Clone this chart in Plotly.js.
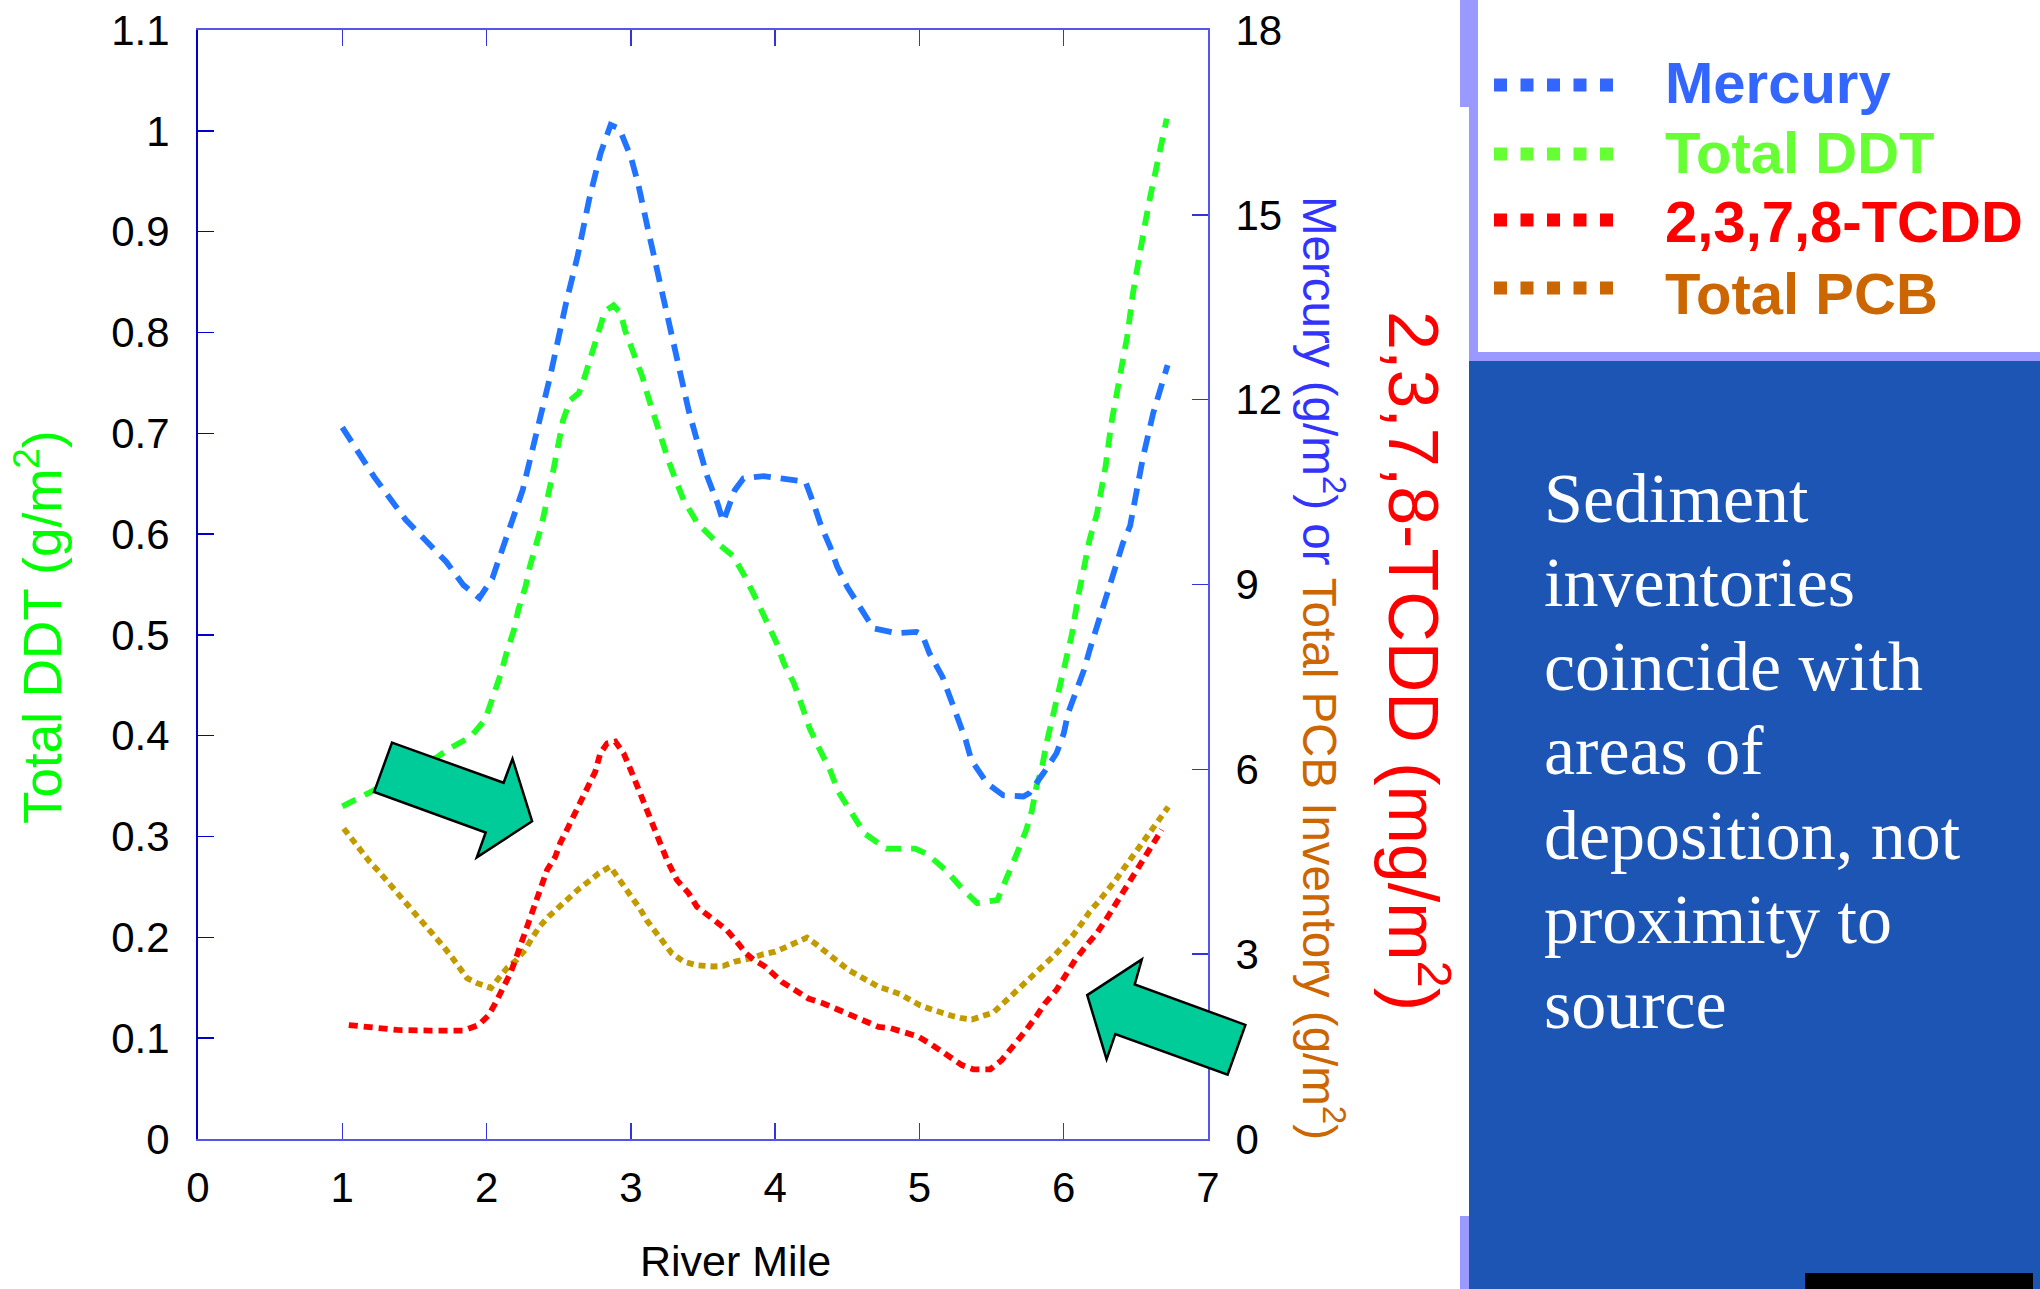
<!DOCTYPE html>
<html>
<head>
<meta charset="utf-8">
<script src="https://cdn.plot.ly/plotly-3.0.1.min.js"></script>
<style>html,body{margin:0;padding:0;background:#fff;}#chart{width:2040px;height:1289px;}</style>
</head>
<body>
<div id="chart"></div>
<script>
// ---------------- DATA ----------------
const seriesNames = ["Mercury", "Total DDT", "2,3,7,8-TCDD", "Total PCB"];

// Mercury (g/m²), right axis
const mercuryMile = [1.00,1.22,1.44,1.56,1.72,1.84,1.95,2.04,2.14,2.25,2.35,2.44,2.55,2.63,2.71,2.79,2.86,2.92,3.00,3.05,3.12,3.19,3.26,3.33,3.40,3.47,3.53,3.60,3.64,3.72,3.78,3.92,4.08,4.21,4.27,4.32,4.38,4.43,4.50,4.59,4.68,4.84,4.98,5.02,5.07,5.16,5.21,5.27,5.32,5.36,5.47,5.58,5.72,5.76,5.86,5.95,6.00,6.03,6.08,6.14,6.18,6.23,6.27,6.32,6.37,6.41,6.46,6.50,6.55,6.62,6.68,6.72];
const mercuryVal  = [11.55,10.75,10.05,9.75,9.37,8.99,8.78,9.10,9.78,10.53,11.5,12.37,13.56,14.32,15.24,16.0,16.46,16.4,15.94,15.51,14.75,14.0,13.24,12.54,11.83,11.24,10.75,10.32,10.02,10.53,10.72,10.76,10.72,10.67,10.29,9.94,9.62,9.29,8.96,8.61,8.29,8.21,8.23,8.18,7.88,7.50,7.15,6.80,6.48,6.15,5.77,5.58,5.56,5.61,5.94,6.26,6.58,6.91,7.23,7.61,7.94,8.32,8.64,8.99,9.34,9.67,9.95,10.5,11.07,11.78,12.21,12.56];

// Total DDT (g/m²), left axis
const ddtMile = [1.00,1.18,1.50,1.66,1.75,1.89,1.99,2.05,2.10,2.14,2.19,2.22,2.27,2.30,2.34,2.38,2.45,2.50,2.53,2.58,2.64,2.68,2.73,2.78,2.82,2.88,2.93,2.96,3.01,3.08,3.12,3.17,3.22,3.26,3.31,3.365,3.46,3.57,3.60,3.71,3.79,3.87,3.95,4.01,4.06,4.13,4.185,4.24,4.31,4.38,4.44,4.52,4.62,4.77,4.91,4.97,5.05,5.18,5.305,5.40,5.54,5.616,5.675,5.74,5.78,5.81,5.85,5.88,5.92,5.95,5.99,6.02,6.056,6.10,6.136,6.18,6.23,6.29,6.33,6.39,6.44,6.48,6.52,6.56,6.60,6.64,6.67,6.714];
const ddtVal  = [0.330,0.343,0.368,0.379,0.388,0.399,0.416,0.439,0.462,0.483,0.505,0.525,0.548,0.568,0.587,0.608,0.654,0.687,0.713,0.733,0.740,0.756,0.779,0.802,0.821,0.827,0.819,0.802,0.783,0.756,0.736,0.713,0.693,0.673,0.654,0.634,0.611,0.594,0.591,0.578,0.558,0.535,0.510,0.492,0.472,0.452,0.430,0.407,0.386,0.366,0.344,0.325,0.303,0.288,0.287,0.288,0.283,0.267,0.247,0.234,0.237,0.262,0.283,0.3065,0.326,0.349,0.369,0.392,0.416,0.435,0.4585,0.478,0.500,0.538,0.561,0.595,0.620,0.667,0.710,0.756,0.796,0.839,0.875,0.905,0.935,0.962,0.984,1.012];

// 2,3,7,8-TCDD (mg/m²)
const tcddMile = [1.045,1.15,1.26,1.38,1.61,1.84,1.945,2.015,2.06,2.12,2.165,2.20,2.246,2.28,2.315,2.35,2.384,2.42,2.476,2.51,2.557,2.615,2.66,2.707,2.753,2.788,2.835,2.892,2.95,3.008,3.065,3.12,3.19,3.25,3.32,3.40,3.458,3.54,3.60,3.666,3.735,3.80,3.85,3.93,4.047,4.14,4.23,4.335,4.44,4.52,4.62,4.716,4.80,4.90,4.993,5.086,5.20,5.294,5.374,5.49,5.57,5.65,5.74,5.81,5.87,5.95,6.02,6.08,6.16,6.23,6.29,6.37,6.425,6.48,6.555,6.61,6.68];
const tcddVal  = [1.85,1.82,1.80,1.77,1.76,1.76,1.85,2.01,2.20,2.47,2.69,2.91,3.23,3.45,3.66,3.88,4.12,4.37,4.58,4.80,5.02,5.31,5.53,5.75,5.96,6.26,6.42,6.45,6.26,5.94,5.61,5.23,4.85,4.53,4.20,3.99,3.77,3.61,3.50,3.39,3.20,3.01,2.91,2.80,2.55,2.42,2.28,2.20,2.09,2.01,1.90,1.82,1.80,1.74,1.66,1.53,1.34,1.20,1.13,1.13,1.28,1.50,1.77,1.99,2.20,2.42,2.69,2.91,3.15,3.34,3.55,3.85,4.07,4.26,4.56,4.74,5.02];

// Total PCB inventory (g/m²), right axis
const pcbMile = [1.01,1.068,1.137,1.19,1.25,1.315,1.387,1.449,1.507,1.576,1.645,1.703,1.76,1.818,1.865,1.934,2.003,2.03,2.084,2.14,2.21,2.27,2.315,2.368,2.43,2.50,2.57,2.64,2.707,2.776,2.857,2.915,2.96,3.008,3.065,3.11,3.176,3.227,3.285,3.365,3.458,3.573,3.64,3.723,3.827,3.92,4.00,4.07,4.14,4.22,4.29,4.36,4.44,4.51,4.58,4.647,4.716,4.785,4.866,4.935,5.005,5.074,5.155,5.224,5.294,5.363,5.43,5.51,5.58,5.65,5.72,5.79,5.87,5.94,6.01,6.066,6.125,6.18,6.25,6.30,6.356,6.41,6.46,6.51,6.56,6.62,6.68,6.725];
const pcbVal  = [5.04,4.86,4.68,4.50,4.35,4.18,4.00,3.81,3.65,3.47,3.30,3.12,2.95,2.77,2.61,2.53,2.46,2.45,2.61,2.77,2.91,3.08,3.26,3.45,3.61,3.77,3.93,4.06,4.18,4.31,4.42,4.23,4.07,3.91,3.73,3.55,3.36,3.19,3.01,2.88,2.82,2.80,2.81,2.88,2.93,3.00,3.04,3.11,3.18,3.27,3.15,3.01,2.85,2.74,2.65,2.55,2.47,2.42,2.35,2.26,2.17,2.11,2.04,2.00,1.96,1.94,1.99,2.05,2.20,2.36,2.50,2.66,2.84,2.99,3.15,3.31,3.50,3.69,3.88,4.01,4.19,4.37,4.53,4.69,4.88,5.04,5.23,5.39];

const xTicks = [0,1,2,3,4,5,6,7];
const leftTicks = [0,0.1,0.2,0.3,0.4,0.5,0.6,0.7,0.8,0.9,1,1.1];
const rightTicks = [0,3,6,9,12,15,18];
const panelLines = ["Sediment","inventories","coincide with","areas of","deposition, not","proximity to","source"];

// ---------------- STYLE ----------------
const W = 2040, H = 1289;
const L = 198, R = 1208, T = 30, B = 1139;
const px = v => (v - L) / (R - L);
const py = v => (B - v) / (B - T);
const SANS = "Liberation Sans, Arial, sans-serif";
const SERIF = "Liberation Serif, Times New Roman, serif";

const lineColors = ["#2174ff", "#22ff22", "#ff0000", "#c29b00"];
const legendColors = ["#3366ff", "#66ff33", "#ff0000", "#cc6600"];
const dashes = ["17px,10px", "15px,10px", "9px,6px", "7px,5px"];

const traces = [
  {x: mercuryMile, y: mercuryVal, yaxis: "y2", name: seriesNames[0]},
  {x: ddtMile, y: ddtVal, yaxis: "y", name: seriesNames[1]},
  {x: tcddMile, y: tcddVal, yaxis: "y3", name: seriesNames[2]},
  {x: pcbMile, y: pcbVal, yaxis: "y2", name: seriesNames[3]}
].map((t, i) => Object.assign(t, {
  type: "scatter", mode: "lines", showlegend: false, hoverinfo: "skip",
  line: {color: lineColors[i], width: 5.8, dash: dashes[i], shape: "linear"}
}));

const order = [3, 2, 1, 0].map(i => traces[i]);

const shapes = [];
const annotations = [];

// right-hand decoration: thin bars, legend box, blue panel
shapes.push({type: "rect", xref: "paper", yref: "paper", x0: px(1460), x1: px(1469), y0: py(0), y1: py(107), fillcolor: "#9999ff", line: {width: 0}, layer: "below"});
shapes.push({type: "rect", xref: "paper", yref: "paper", x0: px(1460), x1: px(1469), y0: py(1216), y1: py(1289), fillcolor: "#9999ff", line: {width: 0}, layer: "below"});
shapes.push({type: "rect", xref: "paper", yref: "paper", x0: px(1469), x1: px(2040), y0: py(361), y1: py(1289), fillcolor: "#1d55b4", line: {width: 0}, layer: "below"});
shapes.push({type: "rect", xref: "paper", yref: "paper", x0: px(1469), x1: px(1478), y0: py(0), y1: py(361), fillcolor: "#9999ff", line: {width: 0}, layer: "below"});
shapes.push({type: "rect", xref: "paper", yref: "paper", x0: px(1469), x1: px(2040), y0: py(352), y1: py(361), fillcolor: "#9999ff", line: {width: 0}, layer: "below"});
shapes.push({type: "rect", xref: "paper", yref: "paper", x0: px(1805), x1: px(2033), y0: py(1273), y1: py(1289), fillcolor: "#000000", line: {width: 0}, layer: "above"});

// legend samples and labels
const legendY = [85, 154, 220, 288];
const legendTextY = [83, 152, 221, 294];
seriesNames.forEach((nm, i) => {
  shapes.push({type: "line", xref: "paper", yref: "paper", x0: px(1494), x1: px(1622), y0: py(legendY[i]), y1: py(legendY[i]),
    line: {color: legendColors[i], width: 13, dash: "13px,13.5px"}});
  annotations.push({xref: "paper", yref: "paper", x: px(1663), y: py(legendTextY[i]), xanchor: "left", yanchor: "middle",
    text: "<b>" + nm + "</b>", showarrow: false, font: {family: SANS, size: 58, color: legendColors[i]}});
});

// green block arrows (decorative callouts)
function pathFrom(pts) {
  return "M" + pts.map(p => px(p[0]).toFixed(5) + "," + py(p[1]).toFixed(5)).join(" L") + " Z";
}
const arrow1 = [[392,742.6],[503.6,782.8],[512.5,758.8],[532.1,821.3],[476.8,857.3],[485.7,832.5],[374.1,791.9]];
const arrow2 = [[1141.8,959.5],[1134.7,984.4],[1245.4,1024.9],[1227.6,1074.6],[1115.3,1034],[1106.6,1059.3],[1087.2,995.1]];
[arrow1, arrow2].forEach(a => shapes.push({type: "path", xref: "paper", yref: "paper", path: pathFrom(a),
  fillcolor: "#00cc99", line: {color: "#000000", width: 2.5}, layer: "above"}));

// axis titles
annotations.push({xref: "paper", yref: "paper", x: px(38), y: py(627), xanchor: "center", yanchor: "middle", textangle: -90,
  text: "Total DDT (g/m<sup>2</sup>)", showarrow: false, font: {family: SANS, size: 53, color: "#00ff00"}});
annotations.push({xref: "paper", yref: "paper", x: px(1323), y: py(668), xanchor: "center", yanchor: "middle", textangle: 90,
  text: "<span style='color:#3333ff'>Mercury (g/m<sup>2</sup>) or </span><span style='color:#cc6600'>Total PCB Inventory (g/m<sup>2</sup>)</span>",
  showarrow: false, font: {family: SANS, size: 47.5, color: "#3333ff"}});
annotations.push({xref: "paper", yref: "paper", x: px(1418), y: py(661), xanchor: "center", yanchor: "middle", textangle: 90,
  text: "2,3,7,8-TCDD (mg/m<sup>2</sup>)", showarrow: false, font: {family: SANS, size: 70, color: "#ff0000"}});
annotations.push({xref: "paper", yref: "paper", x: px(735), y: py(1261), xanchor: "center", yanchor: "middle",
  text: "River Mile", showarrow: false, font: {family: SANS, size: 43, color: "#000000"}});

// panel text
const panelY = [498, 582, 666, 750, 835, 919, 1004];
panelLines.forEach((t, i) => annotations.push({xref: "paper", yref: "paper", x: px(1542), y: py(panelY[i]), xanchor: "left", yanchor: "middle",
  text: t, showarrow: false, font: {family: SERIF, size: 70, color: "#ffffff"}}));

const tickFont = {family: SANS, size: 42, color: "#000000"};
const layout = {
  width: W, height: H,
  margin: {l: L, r: W - R, t: T, b: H - B, pad: 0},
  paper_bgcolor: "#ffffff", plot_bgcolor: "#ffffff",
  showlegend: false,
  xaxis: {range: [0, 7], tickvals: xTicks, ticks: "inside", ticklen: 16, tickwidth: 1.5, tickcolor: "#3333dd",
    showline: true, linecolor: "#5555ee", linewidth: 2, mirror: "ticks", showgrid: false, zeroline: false,
    tickfont: tickFont, ticklabelstandoff: 11},
  yaxis: {range: [0, 1.1], tickvals: leftTicks, ticks: "inside", ticklen: 16, tickwidth: 1.5, tickcolor: "#0000cc",
    showline: true, linecolor: "#0000cc", linewidth: 2, showgrid: false, zeroline: false,
    tickfont: tickFont, ticklabelstandoff: 18},
  yaxis2: {range: [0, 18], tickvals: rightTicks, overlaying: "y", side: "right", ticks: "inside", ticklen: 16, tickwidth: 1.5,
    tickcolor: "#3333dd", showline: true, linecolor: "#5555ee", linewidth: 2, showgrid: false, zeroline: false,
    tickfont: tickFont, ticklabelstandoff: 17},
  yaxis3: {range: [0, 18], overlaying: "y", side: "right", visible: false},
  shapes: shapes,
  annotations: annotations
};

Plotly.newPlot("chart", order, layout, {staticPlot: true, displayModeBar: false});
</script>
</body>
</html>
